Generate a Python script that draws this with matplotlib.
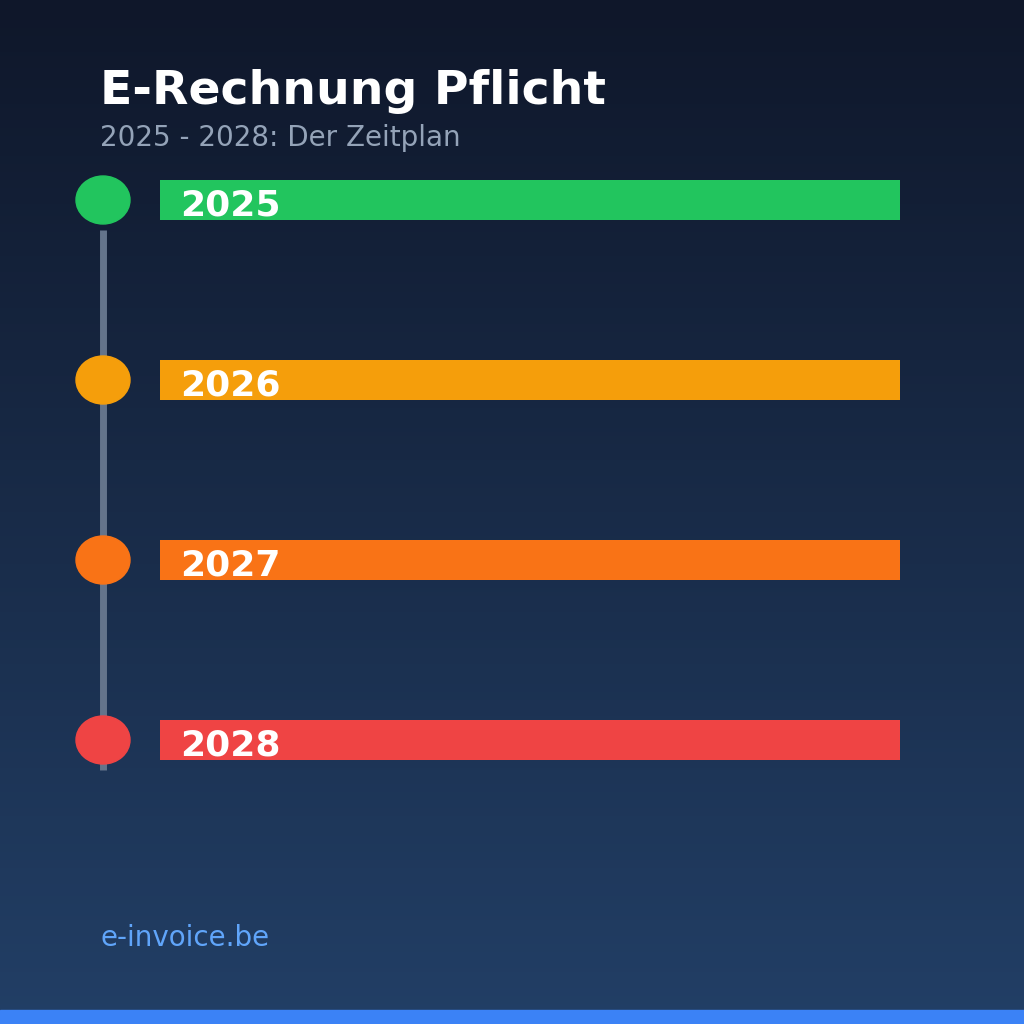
import matplotlib
matplotlib.use("Agg")
import matplotlib.pyplot as plt
import numpy as np
from matplotlib.patches import Ellipse
from matplotlib.colors import LinearSegmentedColormap

years = ["2025", "2026", "2027", "2028"]
bar_colors = ["#22c55e", "#f59e0b", "#f97316", "#ef4444"]
bar_length = [740, 740, 740, 740]
title = "E-Rechnung Pflicht"
subtitle = "2025 - 2028: Der Zeitplan"
footer = "e-invoice.be"

fig = plt.figure(figsize=(10.24, 10.24), dpi=100)
ax = fig.add_axes([0, 0, 1, 1])
ax.set_xlim(0, 1024)
ax.set_ylim(1024, 0)
ax.axis("off")

cmap = LinearSegmentedColormap.from_list("bg", ["#0f172a", "#223f66"])
grad = np.linspace(0, 1, 256).reshape(-1, 1)
ax.imshow(grad, cmap=cmap, extent=[0, 1024, 1024, 0], aspect="auto", zorder=0)
ax.add_patch(plt.Rectangle((0, 1010), 1024, 14, color="#3b82f6", zorder=1))

ax.text(100, 91, title, color="white", fontsize=34, fontweight="bold", va="center", zorder=3)
ax.text(100, 138, subtitle, color="#94a3b8", fontsize=20, va="center", zorder=3)

ys = [200 + 180 * i for i in range(len(years))]
ax.plot([103, 103], [230, 770], color="#64748b", lw=5, solid_capstyle="butt", zorder=1)
ax.barh(ys, bar_length, left=160, height=40, color=bar_colors, zorder=2)
for y, yr, c in zip(ys, years, bar_colors):
    ax.add_patch(Ellipse((103, y), 54, 48, color=c, zorder=3))
    ax.text(180, y + 5, yr, color="white", fontsize=26, fontweight="bold", va="center", zorder=3)

ax.text(100, 938, footer, color="#60a5fa", fontsize=20, va="center", zorder=3)
fig.savefig("out.png", dpi=100)
